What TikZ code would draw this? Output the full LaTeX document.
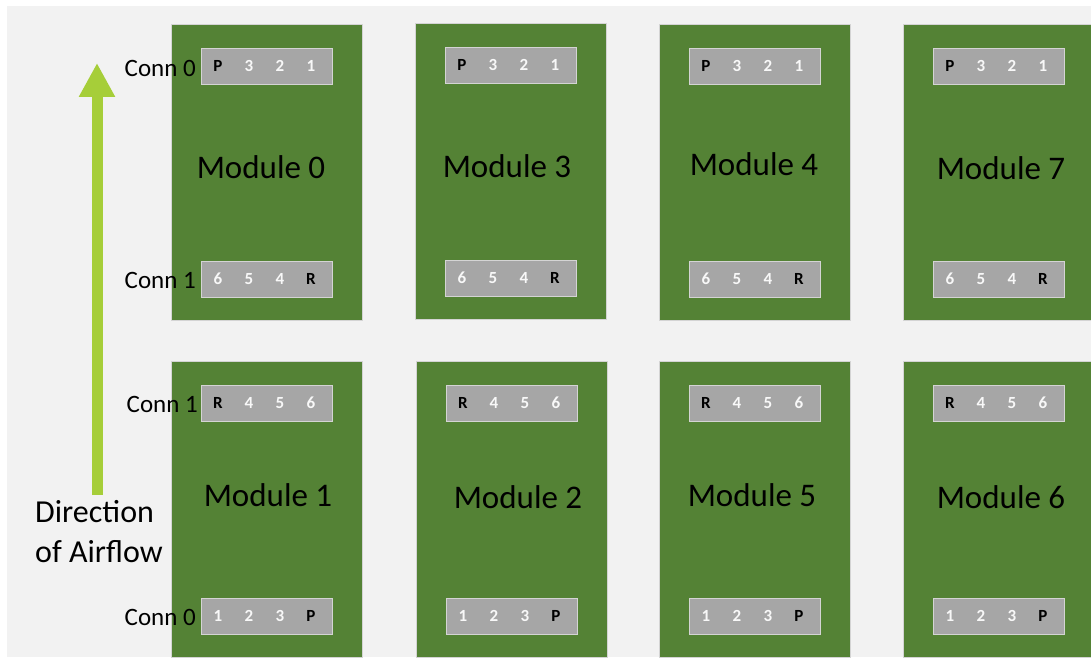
\documentclass[tikz,border=0pt]{standalone}
\usepackage{fontspec}
\setmainfont{Carlito}
\usetikzlibrary{positioning,arrows.meta}

\definecolor{modgreen}{RGB}{84,130,53}
\definecolor{conngray}{RGB}{166,166,166}
\definecolor{edgegray}{RGB}{212,212,212}
\definecolor{bggray}{RGB}{242,242,242}
\definecolor{airgreen}{RGB}{166,206,57}

\tikzset{
  module/.style={draw=edgegray, fill=modgreen, line width=1pt, inner sep=0pt,
    minimum width=191pt, minimum height=296pt, anchor=north west},
  connbox/.style={draw=edgegray, fill=conngray, line width=1pt, inner sep=0pt,
    minimum width=131pt, minimum height=36pt, anchor=north west},
  pinnum/.style={font=\bfseries\fontsize{17}{17}\selectfont, text=white!92!conngray, inner sep=0pt},
  pinkey/.style={pinnum, text=black},
  modlabel/.style={font=\fontsize{33}{33}\selectfont, inner sep=0pt},
  connlabel/.style={font=\fontsize{25}{25}\selectfont, inner sep=0pt},
  airflow/.style={line width=11pt, airgreen,
    -{Triangle[width=34pt,length=34pt]}}
}

\begin{document}
\begin{tikzpicture}[x=1pt,y=-1pt]
\useasboundingbox (0,0) rectangle (1091,658);
\clip (0,0) rectangle (1091,658);
\fill[white] (0,0) rectangle (1091,658);
\fill[bggray] (7,6) rectangle (1091,657);

% module / left / top / label x / label y / upper connector / lower connector
\foreach \m/\x/\y/\lx/\ly/\top/\bot in {
    0/171/24/261/167/{pinkey/P,pinnum/3,pinnum/2,pinnum/1}/{pinnum/6,pinnum/5,pinnum/4,pinkey/R},
    3/415/23/507/166/{pinkey/P,pinnum/3,pinnum/2,pinnum/1}/{pinnum/6,pinnum/5,pinnum/4,pinkey/R},
    4/659/24/754/164/{pinkey/P,pinnum/3,pinnum/2,pinnum/1}/{pinnum/6,pinnum/5,pinnum/4,pinkey/R},
    7/903/24/1001/168/{pinkey/P,pinnum/3,pinnum/2,pinnum/1}/{pinnum/6,pinnum/5,pinnum/4,pinkey/R},
    1/171/361/268/495/{pinkey/R,pinnum/4,pinnum/5,pinnum/6}/{pinnum/1,pinnum/2,pinnum/3,pinkey/P},
    2/416/361/518/497/{pinkey/R,pinnum/4,pinnum/5,pinnum/6}/{pinnum/1,pinnum/2,pinnum/3,pinkey/P},
    5/659/361/752/495/{pinkey/R,pinnum/4,pinnum/5,pinnum/6}/{pinnum/1,pinnum/2,pinnum/3,pinkey/P},
    6/903/361/1001/497/{pinkey/R,pinnum/4,pinnum/5,pinnum/6}/{pinnum/1,pinnum/2,pinnum/3,pinkey/P}} {
  \node[module] (m\m) at (\x,\y) {};
  \node[modlabel] (m\m-name) at (\lx,\ly) {Module \m};
  \node[connbox] (m\m-up) at (\x+30,\y+24) {};
  \node[connbox] (m\m-low) at (\x+30,\y+237) {};
  \foreach \s/\p [count=\i] in \top
    \node[\s] (m\m-up-\i) at (\x+16+31*\i,\y+42) {\p};
  \foreach \s/\p [count=\i] in \bot
    \node[\s] (m\m-low-\i) at (\x+16+31*\i,\y+255) {\p};
}

% connector names on the left column
\node[connlabel, left=5pt of m0-up, yshift=-2pt]  (conn-a) {Conn 0};
\node[connlabel, left=5pt of m0-low, yshift=-1pt] (conn-b) {Conn 1};
\node[connlabel, left=3pt of m1-up, yshift=-1pt]  (conn-c) {Conn 1};
\node[connlabel, left=5pt of m1-low, yshift=-1pt] (conn-d) {Conn 0};

% airflow arrow
\coordinate (tail) at (97,495);
\coordinate (tip) at (97,63);
\draw[airflow] (tail) -- (tip);
\node[font=\fontsize{32}{40}\selectfont, align=left, anchor=north west, inner sep=0pt]
  (airtext) at (35,500) {Direction\\of Airflow};
\end{tikzpicture}
\end{document}
